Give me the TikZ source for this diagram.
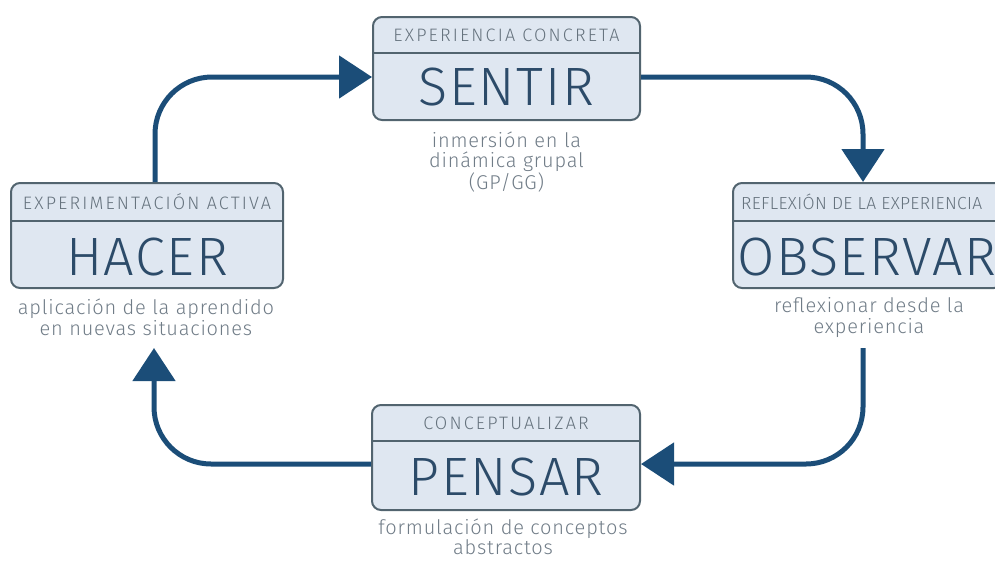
\documentclass[tikz,border=0pt]{standalone}
\usepackage{fontspec}
\setmainfont{Fira Sans}[UprightFont=* Light, BoldFont=* Regular]
\usetikzlibrary{arrows.meta}
\definecolor{conn}{HTML}{1B4D78}
\definecolor{boxfill}{HTML}{DFE7F1}
\definecolor{boxline}{HTML}{52646F}
\definecolor{titlec}{HTML}{66737E}
\definecolor{mainc}{HTML}{2C4B69}
\definecolor{subc}{HTML}{707C87}
\tikzset{
  box/.style={draw=boxline, fill=boxfill, line width=2pt, rounded corners=9pt, inner sep=0pt},
  divline/.style={draw=boxline, line width=1.6pt},
  titletxt/.style={text=titlec, font=\fontsize{18}{20}\selectfont\addfontfeatures{LetterSpace=12}, inner sep=0pt},
  titlenarrow/.style={text=titlec, font=\fontsize{17.5}{20}\selectfont\addfontfeatures{LetterSpace=2}, inner sep=0pt},
  maintxt/.style={text=mainc, font=\fontsize{54}{60}\selectfont\addfontfeatures{LetterSpace=3}, inner sep=0pt},
  subtxt/.style={text=subc, font=\fontsize{20}{20.5}\selectfont\addfontfeatures{LetterSpace=4}, align=center, inner sep=0pt},
  conn/.style={draw=conn, line width=5pt, rounded corners=57pt, -{Triangle[length=33pt,width=42pt]}},
}
\begin{document}
\begin{tikzpicture}[x=1pt,y=-1pt]
\useasboundingbox (0,0) rectangle (995,560);
\clip (0,0) rectangle (995,560);
% SENTIR
\node[box, minimum width=267pt, minimum height=103pt] (sentir) at (506.5,68.5) {};
\draw[divline] (sentir.west |- 0,53) -- (sentir.east |- 0,53);
\node[titletxt] (sentirT) at (506.5,35) {EXPERIENCIA CONCRETA};
\node[maintxt] (sentirM) at (506.5,87) {SENTIR};
\node[subtxt] (sentirS) at (506.5,162) {inmersión en la\\dinámica grupal\\(GP/GG)};
% OBSERVAR
\node[box, minimum width=270pt, minimum height=105pt] (observar) at (868,235.5) {};
\draw[divline] (observar.west |- 0,221) -- (observar.east |- 0,221);
\node[titlenarrow, anchor=west] (observarT) at (741,202) {REFLEXIÓN DE LA EXPERIENCIA};
\node[maintxt] (observarM) at (867,257) {OBSERVAR};
\node[subtxt] (observarS) at (869,317.5) {reflexionar desde la\\experiencia};
% HACER
\node[box, minimum width=272pt, minimum height=105pt] (hacer) at (147,235.5) {};
\draw[divline] (hacer.west |- 0,221) -- (hacer.east |- 0,221);
\node[titletxt] (hacerT) at (147,202) {EXPERIMENTACIÓN ACTIVA};
\node[maintxt] (hacerM) at (147,257) {HACER};
\node[subtxt] (hacerS) at (146,317.5) {aplicación de la aprendido\\en nuevas situaciones};
% PENSAR
\node[box, minimum width=268pt, minimum height=105pt] (pensar) at (506,457.5) {};
\draw[divline] (pensar.west |- 0,441) -- (pensar.east |- 0,441);
\node[titletxt] (pensarT) at (506,423) {CONCEPTUALIZAR};
\node[maintxt] (pensarM) at (506,477) {PENSAR};
\node[subtxt] (pensarS) at (503,537) {formulación de conceptos\\abstractos};
% connectors
\coordinate (a3s) at (863,348);
\coordinate (a4e) at (154,348);
\draw[conn] (hacer.north -| 155,0) |- (sentir.west |- 0,77);
\draw[conn] (sentir.east |- 0,77) -| (observar.north -| 863,0);
\draw[conn] (a3s) |- (pensar.east |- 0,464);
\draw[conn] (pensar.west |- 0,464) -| (a4e);
\end{tikzpicture}
\end{document}
